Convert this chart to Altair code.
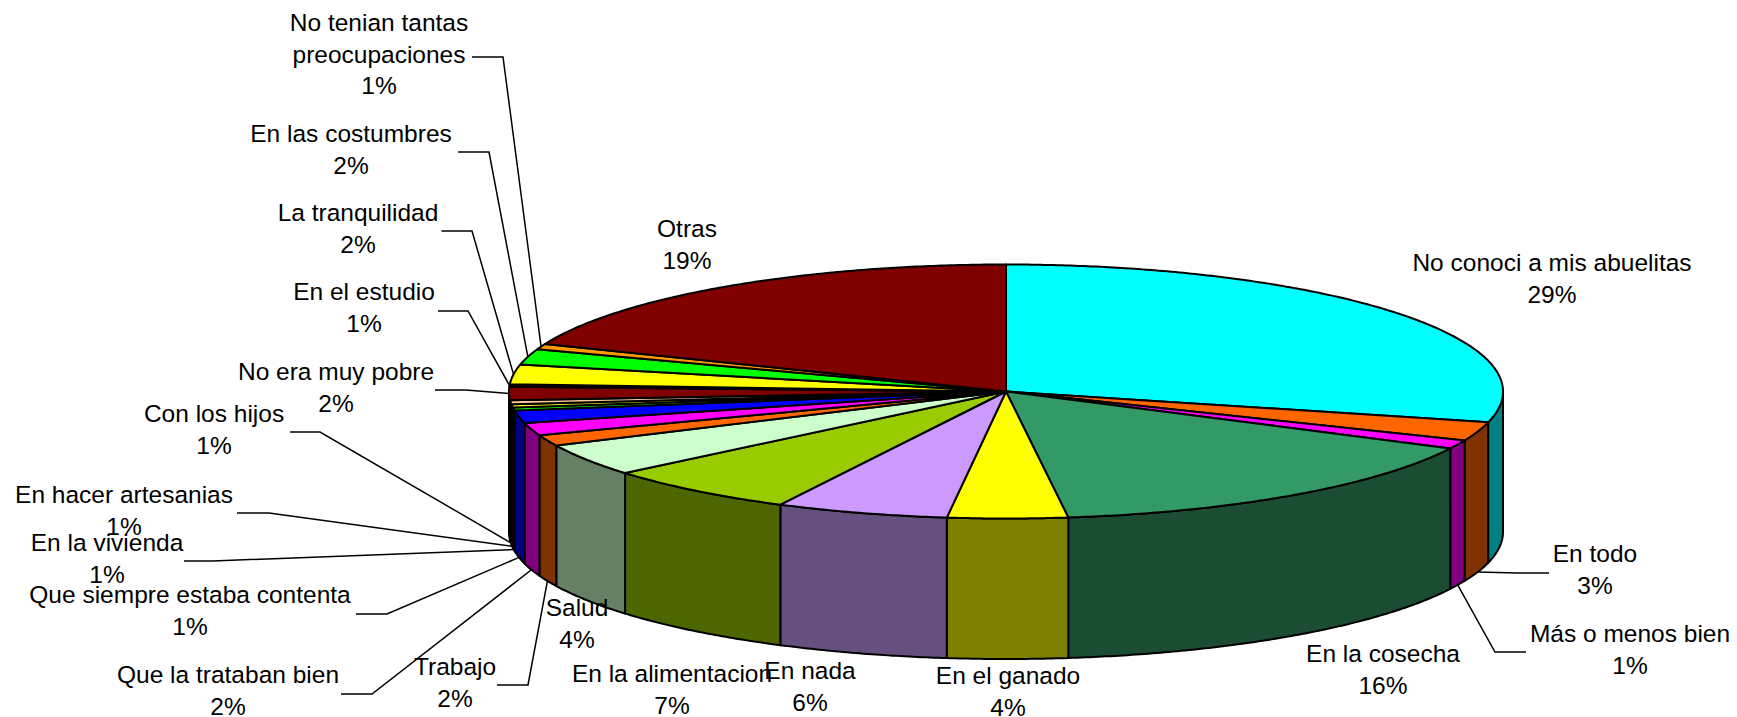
import numpy as np
import pandas as pd
import altair as alt

names = ["No conoci a mis abuelitas", "En todo", "Más o menos bien", "En la cosecha", "En el ganado",
         "En nada", "En la alimentacion", "Salud", "Trabajo", "Que la trataban bien",
         "Que siempre estaba contenta", "En la vivienda", "En hacer artesanias", "Con los hijos",
         "No era muy pobre", "En el estudio", "La tranquilidad", "En las costumbres",
         "No tenian tantas\npreocupaciones", "Otras"]
values = [28.9, 2.4, 1.1, 15.6, 3.9, 5.6, 6.4, 4.1, 1.4, 1.6, 1.6, 0.4, 0.4, 0.5, 1.7, 0.3, 2.5, 2.0, 0.7, 18.9]
shown = ["29%", "3%", "1%", "16%", "4%", "6%", "7%", "4%", "2%", "2%", "1%", "1%", "1%", "1%", "2%", "1%", "2%", "2%", "1%", "19%"]
top_colors = ["#00FFFF", "#FF6600", "#FF00FF", "#339966", "#FFFF00", "#CC99FF", "#99CC00", "#CCFFCC", "#FF6600", "#FF00FF",
              "#0000FF", "#00FF00", "#FFFF00", "#FFCC99", "#800000", "#000000", "#FFFF00", "#00FF00", "#FF9900", "#800000"]
side_colors = ["#008080", "#803300", "#800080", "#1B4D33", "#808000", "#665080", "#4D6600", "#668066", "#803300", "#800080",
               "#000080", "#008000", "#808000", "#806650", "#400000", "#000000", "#808000", "#008000", "#804D00", "#400000"]

# layout of the pie and of its labels (page pixels)
CX, CY, A, B, DEPTH = 1006.0, 391.5, 497.0, 127.0, 140.5
label_x = [1552, 1595, 1630, 1383, 1008, 810, 672, 577, 455, 228, 190, 107, 124, 214, 336, 364, 358, 351, 379, 687]
label_y = [271, 562, 642, 662, 684, 679, 682, 616, 675, 683, 603, 551, 503, 422, 380, 300, 221, 142, 31, 237]
leader_tail = [None, (1549, 573), (1526, 652), None, None, None, None, None, (497, 685), (341, 694), (356, 614),
               (184, 561), (237, 513), (290, 432), (435, 390), (438, 311), (441.5, 231), (458, 152), (472, 57), None]
leader_elbow = [None, (1518, 573), (1495, 652), None, None, None, None, None, (528, 685), (372, 694), (387, 614),
                (213, 561), (269, 513), (320, 432), (466, 390), (468, 311), (472, 231), (489, 152), (503, 57), None]


def rim(t):
    r = np.radians(t)
    return CX + A * np.sin(r), CY - B * np.cos(r)


edges = np.concatenate([[0], np.cumsum(values)]) * 360.0 / sum(values)
tops, sides, leaders = [], [], []
for k, name in enumerate(names):
    t0, t1 = edges[k], edges[k + 1]
    ts = np.linspace(t0, t1, max(2, int((t1 - t0) * 2) + 2))
    xs, ys = rim(ts)
    px = [CX] + list(xs) + [CX]
    py = [CY] + list(ys) + [CY]
    for i, (x, y) in enumerate(zip(px, py)):
        tops.append(dict(s=k, i=i, x=x, y=y, c=top_colors[k]))
    a0, a1 = max(t0, 90.0), min(t1, 270.0)
    if a1 > a0:
        ts = np.linspace(a0, a1, max(2, int((a1 - a0) * 2) + 2))
        xs, ys = rim(ts)
        px = list(xs) + list(xs[::-1]) + [xs[0]]
        py = list(ys) + list(ys[::-1] + DEPTH) + [ys[0]]
        for i, (x, y) in enumerate(zip(px, py)):
            sides.append(dict(s=k, i=i, x=x, y=y, c=side_colors[k]))
    if leader_tail[k] is not None:
        mid = (t0 + t1) / 2
        ex, ey = rim(mid)
        if 90 < mid < 268:
            ey += DEPTH
        for i, (x, y) in enumerate([leader_tail[k], leader_elbow[k], (ex, ey)]):
            leaders.append(dict(s=k, i=i, x=x, y=y))

labels = pd.DataFrame(dict(x=label_x, y=label_y, t=[n + "\n" + p for n, p in zip(names, shown)]))

X = alt.X("x:Q", axis=None, scale=alt.Scale(domain=[8, 1729], nice=False, zero=False))
Y = alt.Y("y:Q", axis=None, scale=alt.Scale(domain=[717, 8], nice=False, zero=False))


def faces(rows):
    return alt.Chart(pd.DataFrame(rows)).mark_line(stroke="black", strokeWidth=2, strokeJoin="round").encode(
        x=X, y=Y, order="i:Q", detail="s:N", fill=alt.Fill("c:N", scale=None, legend=None))


leader_layer = alt.Chart(pd.DataFrame(leaders)).mark_line(color="black", strokeWidth=1.5).encode(
    x=X, y=Y, order="i:Q", detail="s:N")
text_layer = alt.Chart(labels).mark_text(font="Liberation Sans", fontSize=24.5, lineBreak="\n", lineHeight=31.5,
                                         align="center", baseline="alphabetic", color="black").encode(
    x=X, y=Y, text="t:N")

chart = alt.layer(faces(sides), faces(tops), leader_layer, text_layer).properties(
    width=1721, height=709, padding=0, autosize=alt.AutoSizeParams(type="none")
).configure_view(stroke=None)
chart.save("out.html", embed_options={"renderer": "svg", "actions": False})
